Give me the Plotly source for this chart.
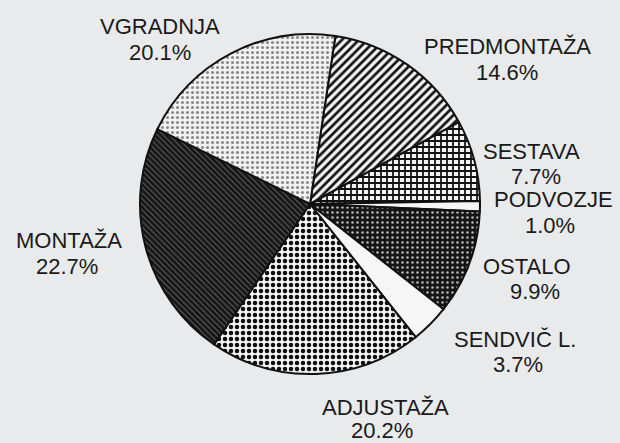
import plotly.graph_objects as go

# ---- data (clockwise from the top) ----
categories = ["PREDMONTAŽA", "SESTAVA", "PODVOZJE", "OSTALO",
              "SENDVIČ L.", "ADJUSTAŽA", "MONTAŽA", "VGRADNJA"]
shares = [14.6, 7.7, 1.0, 9.9, 3.7, 20.2, 22.7, 20.1]
pct_labels = [f"{v:.1f}%" for v in shares]

# ---- styles ----
W, H = 620, 443
pattern_shape = ["/", "+", "", ".", "", ".", "\\", "."]
pattern_fg = ["#111111", "#111111", "#ffffff", "#b8b8b8", "#ffffff", "#111111", "#666666", "#8a8a8a"]
pattern_bg = ["#f4f4f4", "#f4f4f4", "#f6f6f6", "#151515", "#f6f6f6", "#f4f4f4", "#151515", "#f2f2f2"]
pattern_size = [6, 6, 6, 5, 6, 6, 4, 5]
pattern_solid = [0.45, 0.5, 0.3, 0.2, 0.3, 0.45, 0.25, 0.3]

# label centres in pixels (name line, percent line)
name_pos = [(507, 47), (531, 151), (553, 199), (527, 266), (515, 339), (385, 407), (69, 240), (160, 27)]
pct_pos = [(507, 72), (536, 176), (550, 225), (535, 291), (518, 364), (382, 430), (67, 266), (160, 52)]

fig = go.Figure(go.Pie(
    labels=categories,
    values=shares,
    sort=False,
    direction="clockwise",
    rotation=8.6,
    textinfo="none",
    hoverinfo="label+value",
    showlegend=False,
    marker=dict(
        colors=pattern_bg,
        line=dict(color="#111111", width=2),
        pattern=dict(shape=pattern_shape, fgcolor=pattern_fg, bgcolor=pattern_bg,
                     size=pattern_size, solidity=pattern_solid, fillmode="replace"),
    ),
    domain=dict(x=[0, 1], y=[69 / H, 409 / H]),
))

font = dict(family="Liberation Sans, Arial, sans-serif", size=22, color="#1a1a1a")
annotations = []
for name, pct, (nx, ny), (px, py) in zip(categories, pct_labels, name_pos, pct_pos):
    annotations.append(dict(x=nx / W, y=1 - ny / H, xref="paper", yref="paper",
                            text=name, showarrow=False, font=font,
                            xanchor="center", yanchor="middle"))
    annotations.append(dict(x=px / W, y=1 - py / H, xref="paper", yref="paper",
                            text=pct, showarrow=False, font=font,
                            xanchor="center", yanchor="middle"))

fig.update_layout(
    width=W, height=H,
    margin=dict(l=0, r=0, t=0, b=0),
    paper_bgcolor="#e8eaeb",
    plot_bgcolor="#e8eaeb",
    annotations=annotations,
)

fig.write_html(
    "out.html",
    config={"displayModeBar": False},
    post_script="document.body.style.margin='0px';document.body.style.background='#e8eaeb';",
)
